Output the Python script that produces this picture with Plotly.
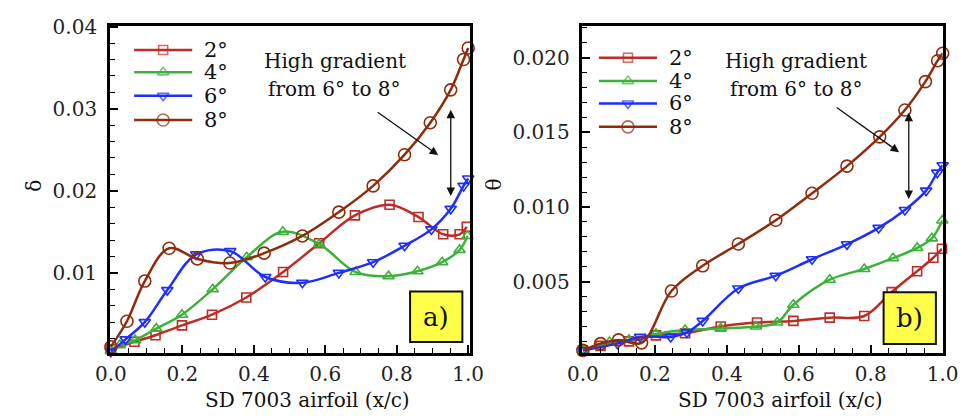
import plotly.graph_objects as go

# ---- boundary-layer data, SD 7003 airfoil ----
ANGLES = ["2°", "4°", "6°", "8°"]

# displacement thickness (delta)
DELTA_X = {
    "2°": [0.0, 0.066, 0.125, 0.199, 0.283, 0.379, 0.482, 0.583, 0.683, 0.780, 0.861, 0.930, 0.976, 0.996],
    "4°": [0.0, 0.025, 0.068, 0.127, 0.199, 0.285, 0.380, 0.481, 0.583, 0.685, 0.777, 0.858, 0.927, 0.976, 0.998],
    "6°": [0.0, 0.041, 0.095, 0.158, 0.239, 0.334, 0.432, 0.536, 0.638, 0.734, 0.822, 0.897, 0.951, 0.987, 1.0],
    "8°": [0.0, 0.045, 0.095, 0.163, 0.242, 0.333, 0.429, 0.536, 0.638, 0.734, 0.822, 0.894, 0.951, 0.987, 1.0],
}
DELTA_Y = {
    "2°": [0.0007, 0.0016, 0.0024, 0.0036, 0.0049, 0.0070, 0.0101, 0.0136, 0.0170, 0.0183, 0.0168, 0.0147, 0.0147, 0.0156],
    "4°": [0.0005, 0.0012, 0.0018, 0.0032, 0.0049, 0.0080, 0.0119, 0.0150, 0.0135, 0.0101, 0.0096, 0.0102, 0.0113, 0.0128, 0.0145],
    "6°": [0.0004, 0.0019, 0.0040, 0.0079, 0.01225, 0.01265, 0.0095, 0.0088, 0.0100, 0.0113, 0.0133, 0.0153, 0.0178, 0.0206, 0.0215],
    "8°": [0.0010, 0.0041, 0.0090, 0.0130, 0.0117, 0.0112, 0.0124, 0.0145, 0.0174, 0.0206, 0.0244, 0.0283, 0.0323, 0.0360, 0.0374],
}

# momentum thickness (theta)
THETA_X = {
    "2°": [0.0, 0.049, 0.128, 0.203, 0.284, 0.383, 0.484, 0.585, 0.686, 0.782, 0.858, 0.929, 0.974, 0.998],
    "4°": [0.0, 0.074, 0.128, 0.203, 0.284, 0.383, 0.481, 0.540, 0.585, 0.686, 0.782, 0.862, 0.929, 0.970, 0.999],
    "6°": [0.0, 0.096, 0.159, 0.244, 0.289, 0.333, 0.432, 0.536, 0.637, 0.734, 0.822, 0.895, 0.954, 0.985, 1.0],
    "8°": [0.0, 0.049, 0.099, 0.163, 0.246, 0.333, 0.432, 0.536, 0.637, 0.734, 0.825, 0.895, 0.952, 0.986, 1.0],
}
THETA_Y = {
    "2°": [0.0004, 0.0007, 0.0010, 0.0014, 0.00154, 0.0020, 0.00226, 0.00237, 0.00259, 0.0027, 0.0043, 0.0057, 0.0066, 0.0072],
    "4°": [0.0004, 0.00096, 0.0011, 0.0015, 0.00176, 0.00187, 0.0020, 0.00226, 0.00345, 0.00513, 0.00585, 0.00657, 0.00726, 0.0079, 0.0091],
    "6°": [0.0004, 0.00085, 0.0013, 0.0013, 0.0016, 0.00237, 0.00454, 0.0054, 0.0065, 0.0075, 0.0086, 0.0098, 0.0111, 0.0123, 0.0128],
    "8°": [0.0004, 0.00085, 0.0011, 0.0009, 0.00437, 0.00606, 0.00752, 0.00911, 0.01092, 0.01274, 0.0147, 0.0165, 0.0184, 0.0198, 0.0203],
}

X_TITLE = "SD 7003 airfoil (x/c)"
NOTE_1 = "High gradient"
NOTE_2 = "from 6° to 8°"

# ---- styling ----
W, H = 979, 416
FONT = "DejaVu Serif"
COLORS = {"2°": "#BE2C28", "4°": "#3DB23A", "6°": "#1E2EFF", "8°": "#8E2C0C"}
SYMBOLS = {"2°": "square-open", "4°": "triangle-up-open", "6°": "triangle-down-open", "8°": "circle-open"}
SIZES = {"2°": 9, "4°": 10, "6°": 10, "8°": 12}

# the overlay axes x3/y3 span the whole canvas in pixel units (y grows downward)
PX = dict(xref="x3", yref="y3")

fig = go.Figure()

for xs, ys, xa, ya in [(DELTA_X, DELTA_Y, "x", "y"), (THETA_X, THETA_Y, "x2", "y2")]:
    for a in ANGLES:
        fig.add_trace(go.Scatter(
            x=xs[a], y=ys[a], xaxis=xa, yaxis=ya, mode="lines+markers",
            line=dict(color=COLORS[a], width=2.5, shape="spline", smoothing=1.0),
            marker=dict(symbol=SYMBOLS[a], size=SIZES[a], color=COLORS[a],
                        line=dict(width=1.6, color=COLORS[a])),
            cliponaxis=False, showlegend=False, name=a,
        ))

# in-panel legends
legend_blocks = [(123, 183, 193, [40, 63, 87, 112]), (603, 663, 673, [48, 72, 95, 119])]
annotations = []
shapes = []
for x0, x1, xt, rows in legend_blocks:
    for a, yy in zip(ANGLES, rows):
        fig.add_trace(go.Scatter(
            x=[x0, (x0 + x1) / 2, x1], y=[yy, yy, yy], xaxis="x3", yaxis="y3",
            mode="lines+markers",
            line=dict(color=COLORS[a], width=2.5),
            marker=dict(symbol=SYMBOLS[a], size=[0, SIZES[a], 0], color=COLORS[a],
                        line=dict(width=1.6, color=COLORS[a])),
            showlegend=False, hoverinfo="skip",
        ))
        annotations.append(dict(x=xt, y=yy, **PX, text=a, showarrow=False,
                                xanchor="left", yanchor="middle",
                                font=dict(family=FONT, size=21, color="#111")))

# notes, arrows and panel tags
for cx, tail, head, vx, vy0, vy1, tag, box in [
    (330, (373, 103), (437, 148), 450, 100, 190, "a)", (408, 288, 462, 340)),
    (807, (847, 98), (913, 145), 923, 103, 193, "b)", (897, 289, 951, 342)),
]:
    annotations.append(dict(x=cx, y=51, **PX, text=NOTE_1, showarrow=False,
                            font=dict(family=FONT, size=20, color="#111")))
    annotations.append(dict(x=cx, y=80, **PX, text=NOTE_2, showarrow=False,
                            font=dict(family=FONT, size=20, color="#111")))
    annotations.append(dict(x=head[0], y=head[1], **PX, ax=tail[0], ay=tail[1],
                            axref="x3", ayref="y3", text="", showarrow=True,
                            arrowhead=2, arrowsize=1.3, arrowwidth=1.3, arrowcolor="#111"))
    annotations.append(dict(x=vx, y=vy1, **PX, ax=vx, ay=vy0, axref="x3", ayref="y3",
                            text="", showarrow=True, arrowhead=2, startarrowhead=2,
                            arrowside="end+start", arrowsize=1.3, startarrowsize=1.3,
                            arrowwidth=1.3, arrowcolor="#111"))
    shapes.append(dict(type="rect", **PX, x0=box[0], x1=box[2], y0=box[1], y1=box[3],
                       fillcolor="#FFFF4A", line=dict(color="#111", width=2), layer="above"))
    annotations.append(dict(x=(box[0] + box[2]) / 2, y=(box[1] + box[3]) / 2, **PX,
                            text=tag, showarrow=False,
                            font=dict(family=FONT, size=26, color="#111")))

# axis titles
annotations += [
    dict(x=20, y=179, **PX, text="δ", textangle=-90, showarrow=False,
         font=dict(family=FONT, size=20, color="#111")),
    dict(x=495, y=178, **PX, text="θ", textangle=-90, showarrow=False,
         font=dict(family=FONT, size=20, color="#111")),
    dict(x=302, y=400, **PX, text=X_TITLE, showarrow=False,
         font=dict(family=FONT, size=20, color="#111")),
    dict(x=791, y=400, **PX, text=X_TITLE, showarrow=False,
         font=dict(family=FONT, size=20, color="#111")),
]

common = dict(showgrid=False, zeroline=False, showline=True, mirror=True, linewidth=2.5,
              linecolor="#000", ticks="inside", ticklen=8, tickwidth=2, tickcolor="#000",
              tickfont=dict(family=FONT, size=20, color="#222"))

xminor = dict(ticks="inside", ticklen=5, tickwidth=1.3, tickcolor="#000", dtick=0.05, showgrid=False)


def fx(p):
    return p / W


def fy(p):
    return 1 - p / H


y_bot, y_top = fy(351), fy(15)
fig.update_layout(
    width=W, height=H, margin=dict(l=0, r=0, t=0, b=0),
    paper_bgcolor="white", plot_bgcolor="rgba(0,0,0,0)", showlegend=False,
    xaxis=dict(domain=[fx(98), fx(470)], range=[-0.0027, 1.0054], dtick=0.2, tick0=0,
               tickformat=".1f", anchor="y", minor=xminor, ticklabelstandoff=2, **common),
    yaxis=dict(domain=[y_bot, y_top], range=[0.00027, 0.04013], dtick=0.01, tick0=0,
               tickformat=".2f", anchor="x", ticklabelstandoff=6,
               minor=dict(ticks="inside", ticklen=5, tickwidth=1.3, tickcolor="#000",
                          dtick=0.002, showgrid=False), **common),
    xaxis2=dict(domain=[fx(586), fx(958)], range=[-0.0013, 1.0], dtick=0.2, tick0=0,
                tickformat=".1f", anchor="y2", minor=xminor, ticklabelstandoff=2, **common),
    yaxis2=dict(domain=[y_bot, y_top], range=[0.00024, 0.02215], dtick=0.005, tick0=0,
                tickformat=".3f", anchor="x2", ticklabelstandoff=6,
                minor=dict(ticks="inside", ticklen=5, tickwidth=1.3, tickcolor="#000",
                           dtick=0.001, showgrid=False), **common),
    xaxis3=dict(domain=[0, 1], range=[0, W], visible=False, anchor="y3", fixedrange=True),
    yaxis3=dict(domain=[0, 1], range=[H, 0], visible=False, anchor="x3", fixedrange=True),
    annotations=annotations, shapes=shapes,
)

fig.write_html("out.html")
